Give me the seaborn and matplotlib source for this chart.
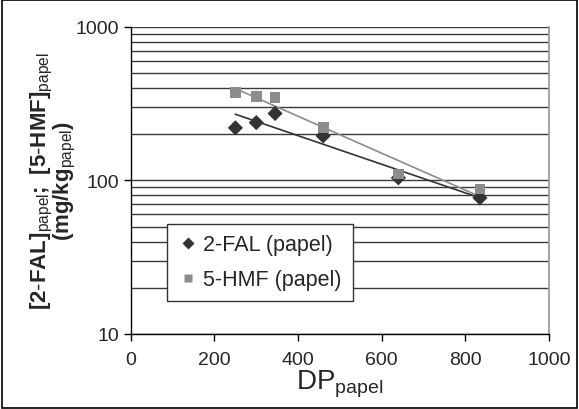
import numpy as np
import pandas as pd
import matplotlib
matplotlib.use("Agg")
import matplotlib.pyplot as plt
import matplotlib.ticker as mticker
from matplotlib.patches import Rectangle
import seaborn as sns

# data
dp_fal = [250, 300, 345, 460, 640, 835]
fal = [220, 238, 273, 195, 104, 77]
dp_hmf = [250, 300, 345, 460, 640, 835]
hmf = [374, 354, 347, 220, 110, 88]
x_ticks = [0, 200, 400, 600, 800, 1000]
y_ticks = [10, 100, 1000]

sns.set_theme(style="white")
plt.rcParams['font.family'] = ['Liberation Sans', 'DejaVu Sans']
plt.rcParams['mathtext.fontset'] = 'custom'
plt.rcParams['mathtext.rm'] = 'Liberation Sans'
plt.rcParams['mathtext.bf'] = 'Liberation Sans:bold'

df = pd.concat([
    pd.DataFrame({"DP": dp_fal, "c": fal, "s": "2-FAL (papel)"}),
    pd.DataFrame({"DP": dp_hmf, "c": hmf, "s": "5-HMF (papel)"}),
])

fig = plt.figure(figsize=(5.79, 4.10), dpi=100)
ax = fig.add_axes([0.226, 0.183, 0.722, 0.749])

# exponential trend lines
trend = []
for name, xs, ys in [("2-FAL (papel)", dp_fal, fal), ("5-HMF (papel)", dp_hmf, hmf)]:
    b, a = np.polyfit(xs, np.log(ys), 1)
    xx = np.array([min(xs), max(xs)])
    trend.append(pd.DataFrame({"DP": xx, "c": np.exp(a + b * xx), "s": name}))
trend = pd.concat(trend)

pal = {"2-FAL (papel)": "#333333", "5-HMF (papel)": "#8c8c8c"}
sns.lineplot(data=trend, x="DP", y="c", hue="s", palette=pal, ax=ax,
             legend=False, linewidth=1.2)
sns.scatterplot(data=df, x="DP", y="c", hue="s", style="s", palette=pal,
                markers={"2-FAL (papel)": "D", "5-HMF (papel)": "s"},
                s=60, edgecolor="none", ax=ax, zorder=3)

ax.set_yscale("log")
ax.set_ylim(10, 1000)
ax.set_xlim(0, 1000)
ax.set_xticks(x_ticks)
ax.set_yticks(y_ticks)
ax.yaxis.set_major_formatter(mticker.FuncFormatter(lambda v, p: f"{v:g}"))
ax.yaxis.set_minor_locator(mticker.LogLocator(base=10, subs=np.arange(2, 10)))
ax.yaxis.set_minor_formatter(mticker.NullFormatter())
ax.grid(True, axis="y", which="both", color="#3a3a3a", linewidth=1)
ax.tick_params(axis="both", which="major", direction="out", length=5, width=1,
               color="black", labelsize=14, bottom=True, left=True)
ax.tick_params(axis="x", pad=7)
ax.tick_params(axis="y", which="minor", length=0)
ax.spines["top"].set_visible(False)
ax.spines["right"].set_color("#999999")
for side in ["left", "bottom"]:
    ax.spines[side].set_color("black")
    ax.spines[side].set_linewidth(1)

ax.set_xlabel(r"DP$_{\mathrm{papel}}$", fontsize=20, labelpad=0)
ax.set_ylabel(r"$\mathbf{[2\text{-}FAL]_{\mathrm{papel}};\ [5\text{-}HMF]_{\mathrm{papel}}}$" + "\n"
              + r"$\mathbf{(mg/kg_{\mathrm{papel}})}$", fontsize=16, labelpad=-2,
              linespacing=0.85)

leg = ax.legend(loc="lower left", bbox_to_anchor=(0.086, 0.107), fontsize=15.5,
                frameon=True, fancybox=False, edgecolor="#333333",
                handletextpad=0.2, handlelength=1.0, borderpad=0.5,
                labelspacing=0.65, borderaxespad=0, markerscale=0.8)
leg.get_frame().set_linewidth(1)
leg.get_frame().set_alpha(1)

fig.patches.append(Rectangle((0.003, 0.003), 0.994, 0.994, transform=fig.transFigure,
                             fill=False, edgecolor="black", linewidth=1.2))

fig.savefig("out.png", dpi=100)
